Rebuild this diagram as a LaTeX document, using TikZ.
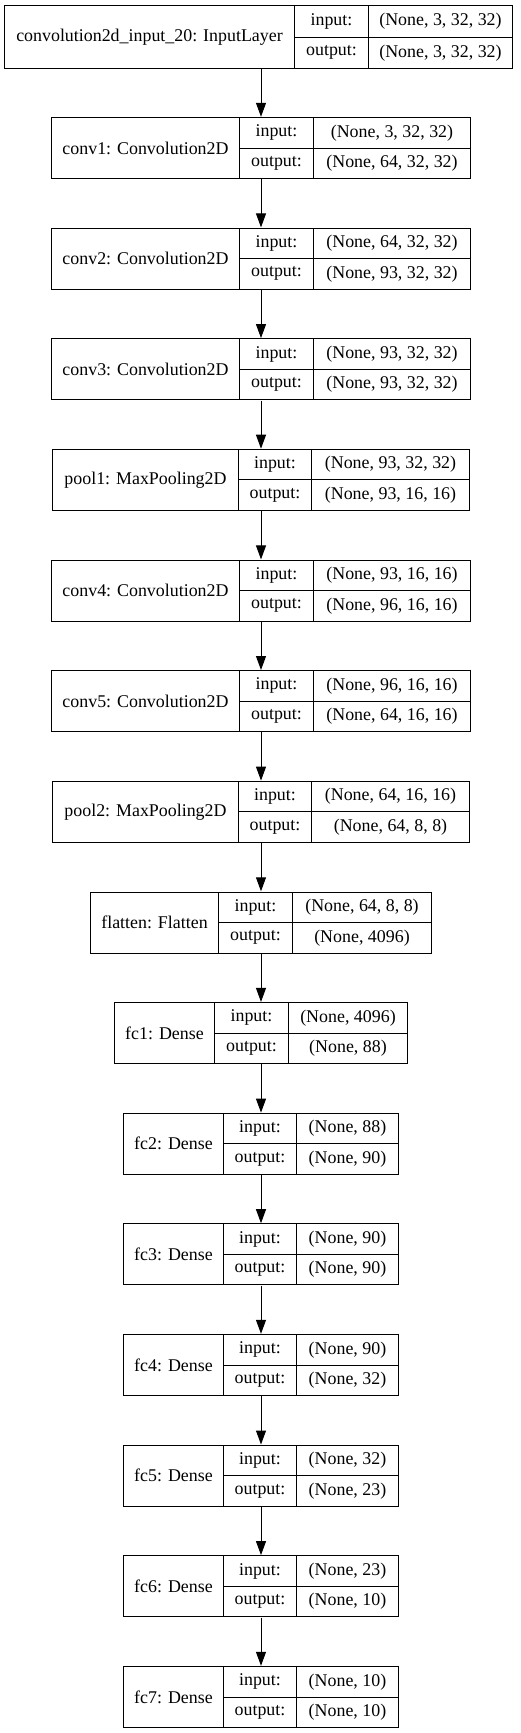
\documentclass[tikz,border=0pt]{standalone}
\usepackage{fontspec}
\setmainfont{Liberation Serif}
\usetikzlibrary{arrows.meta,fit}

\tikzset{
  cell/.style={draw, line width=1pt, inner sep=0pt, anchor=north west, minimum height=30.5pt},
  arr/.style={line width=1pt, -{Triangle[length=14pt,width=10pt]}}
}

\begin{document}
\begin{tikzpicture}[x=1pt, y=-1pt, font=\fontsize{17.9}{22}\selectfont]
\useasboundingbox (0,0) rectangle (521,1733);

\node[cell, minimum width=290pt, minimum height=63pt] (n0) at (4,5) {convolution2d\_input\_20: InputLayer};
\node[cell, minimum width=74pt, minimum height=31.5pt] (i0) at (294,5) {input:};
\node[cell, minimum width=74pt, minimum height=31.5pt] (o0) at (294,36.5) {output:};
\node[cell, minimum width=144pt, minimum height=31.5pt] (iv0) at (368,5) {(None, 3, 32, 32)};
\node[cell, minimum width=144pt, minimum height=31.5pt] (ov0) at (368,36.5) {(None, 3, 32, 32)};
\node[fit=(n0)(ov0), inner sep=0pt] (L0) {};

\node[cell, minimum width=188pt, minimum height=61pt] (n1) at (51,117) {conv1: Convolution2D};
\node[cell, minimum width=74pt] (i1) at (239,117) {input:};
\node[cell, minimum width=74pt] (o1) at (239,147.5) {output:};
\node[cell, minimum width=157pt] (iv1) at (313,117) {(None, 3, 32, 32)};
\node[cell, minimum width=157pt] (ov1) at (313,147.5) {(None, 64, 32, 32)};
\node[fit=(n1)(ov1), inner sep=0pt] (L1) {};

\node[cell, minimum width=188pt, minimum height=61pt] (n2) at (51,227.6) {conv2: Convolution2D};
\node[cell, minimum width=74pt] (i2) at (239,227.6) {input:};
\node[cell, minimum width=74pt] (o2) at (239,258.1) {output:};
\node[cell, minimum width=157pt] (iv2) at (313,227.6) {(None, 64, 32, 32)};
\node[cell, minimum width=157pt] (ov2) at (313,258.1) {(None, 93, 32, 32)};
\node[fit=(n2)(ov2), inner sep=0pt] (L2) {};

\node[cell, minimum width=188pt, minimum height=61pt] (n3) at (51,338.3) {conv3: Convolution2D};
\node[cell, minimum width=74pt] (i3) at (239,338.3) {input:};
\node[cell, minimum width=74pt] (o3) at (239,368.8) {output:};
\node[cell, minimum width=157pt] (iv3) at (313,338.3) {(None, 93, 32, 32)};
\node[cell, minimum width=157pt] (ov3) at (313,368.8) {(None, 93, 32, 32)};
\node[fit=(n3)(ov3), inner sep=0pt] (L3) {};

\node[cell, minimum width=186pt, minimum height=61pt] (n4) at (52,448.9) {pool1: MaxPooling2D};
\node[cell, minimum width=73pt] (i4) at (238,448.9) {input:};
\node[cell, minimum width=73pt] (o4) at (238,479.4) {output:};
\node[cell, minimum width=158pt] (iv4) at (311,448.9) {(None, 93, 32, 32)};
\node[cell, minimum width=158pt] (ov4) at (311,479.4) {(None, 93, 16, 16)};
\node[fit=(n4)(ov4), inner sep=0pt] (L4) {};

\node[cell, minimum width=188pt, minimum height=61pt] (n5) at (51,559.6) {conv4: Convolution2D};
\node[cell, minimum width=74pt] (i5) at (239,559.6) {input:};
\node[cell, minimum width=74pt] (o5) at (239,590.1) {output:};
\node[cell, minimum width=157pt] (iv5) at (313,559.6) {(None, 93, 16, 16)};
\node[cell, minimum width=157pt] (ov5) at (313,590.1) {(None, 96, 16, 16)};
\node[fit=(n5)(ov5), inner sep=0pt] (L5) {};

\node[cell, minimum width=188pt, minimum height=61pt] (n6) at (51,670.2) {conv5: Convolution2D};
\node[cell, minimum width=74pt] (i6) at (239,670.2) {input:};
\node[cell, minimum width=74pt] (o6) at (239,700.7) {output:};
\node[cell, minimum width=157pt] (iv6) at (313,670.2) {(None, 96, 16, 16)};
\node[cell, minimum width=157pt] (ov6) at (313,700.7) {(None, 64, 16, 16)};
\node[fit=(n6)(ov6), inner sep=0pt] (L6) {};

\node[cell, minimum width=186pt, minimum height=61pt] (n7) at (52,780.8) {pool2: MaxPooling2D};
\node[cell, minimum width=73pt] (i7) at (238,780.8) {input:};
\node[cell, minimum width=73pt] (o7) at (238,811.3) {output:};
\node[cell, minimum width=158pt] (iv7) at (311,780.8) {(None, 64, 16, 16)};
\node[cell, minimum width=158pt] (ov7) at (311,811.3) {(None, 64, 8, 8)};
\node[fit=(n7)(ov7), inner sep=0pt] (L7) {};

\node[cell, minimum width=128pt, minimum height=61pt] (n8) at (90,891.5) {flatten: Flatten};
\node[cell, minimum width=74pt] (i8) at (218,891.5) {input:};
\node[cell, minimum width=74pt] (o8) at (218,922) {output:};
\node[cell, minimum width=139pt] (iv8) at (292,891.5) {(None, 64, 8, 8)};
\node[cell, minimum width=139pt] (ov8) at (292,922) {(None, 4096)};
\node[fit=(n8)(ov8), inner sep=0pt] (L8) {};

\node[cell, minimum width=100pt, minimum height=61pt] (n9) at (114,1002.1) {fc1: Dense};
\node[cell, minimum width=74pt] (i9) at (214,1002.1) {input:};
\node[cell, minimum width=74pt] (o9) at (214,1032.6) {output:};
\node[cell, minimum width=119pt] (iv9) at (288,1002.1) {(None, 4096)};
\node[cell, minimum width=119pt] (ov9) at (288,1032.6) {(None, 88)};
\node[fit=(n9)(ov9), inner sep=0pt] (L9) {};

\node[cell, minimum width=100pt, minimum height=61pt] (n10) at (123,1112.8) {fc2: Dense};
\node[cell, minimum width=73pt] (i10) at (223,1112.8) {input:};
\node[cell, minimum width=73pt] (o10) at (223,1143.3) {output:};
\node[cell, minimum width=102pt] (iv10) at (296,1112.8) {(None, 88)};
\node[cell, minimum width=102pt] (ov10) at (296,1143.3) {(None, 90)};
\node[fit=(n10)(ov10), inner sep=0pt] (L10) {};

\node[cell, minimum width=100pt, minimum height=61pt] (n11) at (123,1223.4) {fc3: Dense};
\node[cell, minimum width=73pt] (i11) at (223,1223.4) {input:};
\node[cell, minimum width=73pt] (o11) at (223,1253.9) {output:};
\node[cell, minimum width=102pt] (iv11) at (296,1223.4) {(None, 90)};
\node[cell, minimum width=102pt] (ov11) at (296,1253.9) {(None, 90)};
\node[fit=(n11)(ov11), inner sep=0pt] (L11) {};

\node[cell, minimum width=100pt, minimum height=61pt] (n12) at (123,1334) {fc4: Dense};
\node[cell, minimum width=73pt] (i12) at (223,1334) {input:};
\node[cell, minimum width=73pt] (o12) at (223,1364.5) {output:};
\node[cell, minimum width=102pt] (iv12) at (296,1334) {(None, 90)};
\node[cell, minimum width=102pt] (ov12) at (296,1364.5) {(None, 32)};
\node[fit=(n12)(ov12), inner sep=0pt] (L12) {};

\node[cell, minimum width=100pt, minimum height=61pt] (n13) at (123,1444.7) {fc5: Dense};
\node[cell, minimum width=73pt] (i13) at (223,1444.7) {input:};
\node[cell, minimum width=73pt] (o13) at (223,1475.2) {output:};
\node[cell, minimum width=102pt] (iv13) at (296,1444.7) {(None, 32)};
\node[cell, minimum width=102pt] (ov13) at (296,1475.2) {(None, 23)};
\node[fit=(n13)(ov13), inner sep=0pt] (L13) {};

\node[cell, minimum width=100pt, minimum height=61pt] (n14) at (123,1555.3) {fc6: Dense};
\node[cell, minimum width=73pt] (i14) at (223,1555.3) {input:};
\node[cell, minimum width=73pt] (o14) at (223,1585.8) {output:};
\node[cell, minimum width=102pt] (iv14) at (296,1555.3) {(None, 23)};
\node[cell, minimum width=102pt] (ov14) at (296,1585.8) {(None, 10)};
\node[fit=(n14)(ov14), inner sep=0pt] (L14) {};

\node[cell, minimum width=100pt, minimum height=61pt] (n15) at (123,1666) {fc7: Dense};
\node[cell, minimum width=73pt] (i15) at (223,1666) {input:};
\node[cell, minimum width=73pt] (o15) at (223,1696.5) {output:};
\node[cell, minimum width=102pt] (iv15) at (296,1666) {(None, 10)};
\node[cell, minimum width=102pt] (ov15) at (296,1696.5) {(None, 10)};
\node[fit=(n15)(ov15), inner sep=0pt] (L15) {};

% edges
\draw[arr] (L0.south -| L1.north) -- (L1.north);
\draw[arr] (L1.south) -- (L2.north);
\draw[arr] (L2.south) -- (L3.north);
\draw[arr] (L3.south) -- (L4.north);
\draw[arr] (L4.south) -- (L5.north);
\draw[arr] (L5.south) -- (L6.north);
\draw[arr] (L6.south) -- (L7.north);
\draw[arr] (L7.south) -- (L8.north);
\draw[arr] (L8.south) -- (L9.north);
\draw[arr] (L9.south) -- (L10.north);
\draw[arr] (L10.south) -- (L11.north);
\draw[arr] (L11.south) -- (L12.north);
\draw[arr] (L12.south) -- (L13.north);
\draw[arr] (L13.south) -- (L14.north);
\draw[arr] (L14.south) -- (L15.north);
\end{tikzpicture}
\end{document}
